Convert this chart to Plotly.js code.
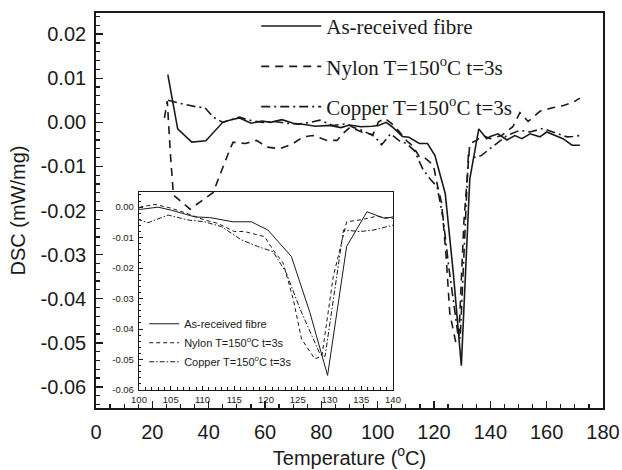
<!DOCTYPE html>
<html>
<head>
<meta charset="utf-8">
<script src="https://cdn.plot.ly/plotly-3.0.1.min.js"></script>
<style>html,body{margin:0;padding:0;background:#fff;}#chart{width:622px;height:470px;}</style>
</head>
<body>
<div id="chart"></div>
<script>
// As-received fibre
const tempAs = [25.5, 29, 34, 39, 45, 48, 51, 55, 59, 62, 66, 70, 74, 78, 83, 87, 90, 94, 98,
  100.3, 103, 105.1, 108.8, 111.1, 114.8, 117.7, 120.3, 124, 126.9, 129.7, 132.7, 135.9, 138.7, 140,
  142.7, 145.9, 148.7, 151.2, 154.1, 157.6, 160, 163, 165.8, 169, 171.8];
const dscAs = [0.0108, -0.0015, -0.0045, -0.0042, 0.0, 0.0006, 0.001, -0.0002, 0.0003, 0.0, 0.0006, -0.0002, -0.0005, -0.0009, -0.0007, -0.0012, -0.0006, -0.001, -0.0009,
  -0.0007, 0.0, -0.001, -0.0032, -0.0034, -0.0048, -0.0048, -0.0075, -0.0162, -0.0345, -0.0552, -0.0129, -0.0015, -0.0037, -0.0032,
  -0.0026, -0.004, -0.003, -0.0037, -0.0026, -0.0033, -0.0022, -0.003, -0.0037, -0.0052, -0.0052];

// Nylon T=150°C t=3s
const tempNylon = [24.3, 25.3, 26.5, 27.5, 33.4, 41.6, 47.6, 48.7, 53, 57, 60.6, 65.3, 70, 73.5, 77, 82, 85.6, 87.7, 90.2, 94.4, 98.3,
  100.3, 102.5, 105, 107.5, 110.3, 112.4, 115, 116.6, 119.8, 121.1, 122.7, 124.3, 125.6, 127.7, 128.8, 130.6, 132.7, 134.8, 137.4, 140,
  144, 148, 150.5, 153.4, 157.6, 162, 166, 169.5, 171.8];
const dscNylon = [0.001, 0.0048, -0.008, -0.0165, -0.0197, -0.0159, -0.006, -0.0045, -0.0048, -0.0041, -0.0056, -0.006, -0.0048, -0.0033, -0.003, -0.0041, -0.0041, -0.0025, -0.0011, -0.0022, -0.0028,
  0.0001, 0.0009, -0.0003, -0.002, -0.0042, -0.0053, -0.008, -0.008, -0.0097, -0.014, -0.0183, -0.0303, -0.0433, -0.0498, -0.0488, -0.0227, -0.0048, -0.0042, -0.003, -0.0037,
  -0.003, -0.001, 0.0022, 0.0002, 0.0025, 0.0033, 0.0038, 0.0046, 0.0055];

// Copper T=150°C t=3s
const tempCopper = [25.6, 29.8, 35.8, 38.7, 41.6, 45, 51, 55, 59.3, 63, 68.9, 72, 76, 79.5, 84.1, 89, 91.2, 94.4, 98.3,
  100.3, 101.4, 104.6, 107.7, 110.3, 113, 116.1, 118.7, 121.1, 123.2, 125.4, 127.5, 128.5, 129.3, 131.1, 132.2, 134.8, 136.9, 140,
  145.9, 150.5, 154, 158.7, 162.2, 167.2, 169.3, 171.8];
const dscCopper = [0.005, 0.0043, 0.0035, 0.0033, 0.0012, 0.0, 0.0012, 0.0004, 0.0, 0.0002, -0.0003, -0.0004, 0.0, 0.0005, -0.0007, -0.0003, -0.0011, -0.0018, -0.003,
  -0.0042, -0.0051, -0.0026, -0.0042, -0.0048, -0.0064, -0.0107, -0.0129, -0.0146, -0.0216, -0.0336, -0.0433, -0.0482, -0.049, -0.0238, -0.0075, -0.008, -0.0075, -0.0059,
  -0.003, -0.0018, -0.0022, -0.0014, -0.0022, -0.0033, -0.0032, -0.003];

const names = ['As-received fibre', 'Nylon T=150<sup>o</sup>C t=3s', 'Copper T=150<sup>o</sup>C t=3s'];
const xTickVals = [0, 20, 40, 60, 80, 100, 120, 140, 160, 180];
const yTickVals = [0.02, 0.01, 0.0, -0.01, -0.02, -0.03, -0.04, -0.05, -0.06];
const insetXTicks = [100, 105, 110, 115, 120, 125, 130, 135, 140];
const insetYTicks = [0.0, -0.01, -0.02, -0.03, -0.04, -0.05, -0.06];

const ink = '#1a1a1a';
const mainDash = ['solid', '8px,6px', '9px,4px,2px,4px'];
const insetDash = ['solid', '4px,3px', '5px,2px,1.5px,2px'];
const xs = [tempAs, tempNylon, tempCopper];
const ys = [dscAs, dscNylon, dscCopper];

const traces = [];
for (let i = 0; i < 3; i++) {
  traces.push({
    x: xs[i], y: ys[i], type: 'scatter', mode: 'lines', name: names[i],
    line: {color: ink, width: 1.6, dash: mainDash[i]},
    xaxis: 'x', yaxis: 'y', legend: 'legend', legendgroup: 'm' + i
  });
}
for (let i = 0; i < 3; i++) {
  traces.push({
    x: xs[i], y: ys[i], type: 'scatter', mode: 'lines', name: names[i],
    line: {color: ink, width: 1.0, dash: insetDash[i]},
    xaxis: 'x2', yaxis: 'y2', legend: 'legend2', legendgroup: 'i' + i
  });
}

const fmt2 = v => v.toFixed(2);

const layout = {
  width: 622, height: 470,
  margin: {l: 96, r: 19, t: 13, b: 62, autoexpand: false},
  paper_bgcolor: '#fff', plot_bgcolor: 'rgba(0,0,0,0)',
  font: {family: 'Liberation Sans, Arial, sans-serif', color: ink},
  xaxis: {
    domain: [0, 1], range: [0, 180], anchor: 'y', automargin: false,
    tickmode: 'array', tickvals: xTickVals, ticktext: xTickVals.map(String),
    ticks: 'inside', ticklen: 7, tickwidth: 1.5, tickcolor: ink,
    minor: {dtick: 5, ticks: 'inside', ticklen: 4, tickwidth: 1.2, tickcolor: ink},
    showline: true, linewidth: 1.8, linecolor: ink, mirror: true,
    showgrid: false, zeroline: false,
    tickfont: {size: 20, color: ink}, ticklabelstandoff: 5,
    title: {text: 'Temperature (<sup>o</sup>C)', font: {size: 20, color: ink}, standoff: 9}
  },
  yaxis: {
    domain: [0, 1], range: [-0.0648, 0.0248], anchor: 'x', automargin: false,
    tickmode: 'array', tickvals: yTickVals, ticktext: yTickVals.map(fmt2),
    ticks: 'inside', ticklen: 7, tickwidth: 1.5, tickcolor: ink,
    minor: {dtick: 0.002, ticks: 'inside', ticklen: 4, tickwidth: 1.2, tickcolor: ink},
    showline: true, linewidth: 1.8, linecolor: ink, mirror: true,
    showgrid: false, zeroline: false,
    tickfont: {size: 20, color: ink}, ticklabelstandoff: 4,
    title: {text: 'DSC (mW/mg)', font: {size: 20, color: ink}, standoff: 10}
  },
  xaxis2: {
    domain: [0.0848, 0.5858], range: [100, 140], anchor: 'y2',
    tickmode: 'array', tickvals: insetXTicks, ticktext: insetXTicks.map(String),
    ticks: 'inside', ticklen: 4, tickwidth: 1, tickcolor: ink,
    minor: {dtick: 1, ticks: 'inside', ticklen: 2.5, tickwidth: 1, tickcolor: ink},
    showline: true, linewidth: 1.2, linecolor: ink, mirror: true,
    showgrid: false, zeroline: false,
    tickfont: {size: 9.5, color: ink}, ticklabelstandoff: 0
  },
  yaxis2: {
    domain: [0.0456, 0.547], range: [-0.06, 0.005], anchor: 'x2',
    tickmode: 'array', tickvals: insetYTicks, ticktext: insetYTicks.map(fmt2),
    ticks: 'inside', ticklen: 4, tickwidth: 1, tickcolor: ink,
    minor: {dtick: 0.002, ticks: 'inside', ticklen: 2.5, tickwidth: 1, tickcolor: ink},
    showline: true, linewidth: 1.2, linecolor: ink, mirror: true,
    showgrid: false, zeroline: false,
    tickfont: {size: 9.5, color: ink}, ticklabelstandoff: 2
  },
  showlegend: true,
  legend: {
    x: 0.316, y: 1.018, xanchor: 'left', yanchor: 'top',
    bgcolor: 'rgba(0,0,0,0)', borderwidth: 0,
    font: {family: 'Liberation Serif, Times New Roman, serif', size: 21, color: ink},
    itemwidth: 60, tracegroupgap: 10, traceorder: 'grouped'
  },
  legend2: {
    x: 0.095, y: 0.25, xanchor: 'left', yanchor: 'top',
    bgcolor: 'rgba(0,0,0,0)', borderwidth: 0,
    font: {family: 'Liberation Sans, Arial, sans-serif', size: 11, color: ink},
    itemwidth: 30, tracegroupgap: 0, traceorder: 'grouped'
  }
};

Plotly.newPlot('chart', traces, layout, {staticPlot: true, displayModeBar: false});
</script>
</body>
</html>
